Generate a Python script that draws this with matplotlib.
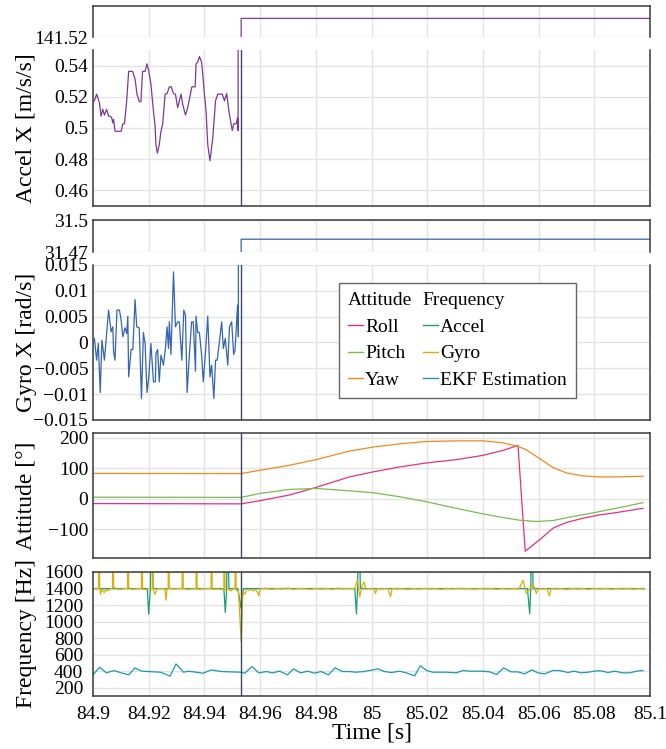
import numpy as np
import matplotlib
matplotlib.use("Agg")
import matplotlib.pyplot as plt
from matplotlib.lines import Line2D
from matplotlib.ticker import FuncFormatter

plt.rcParams['font.family'] = ['Liberation Serif', 'DejaVu Serif']

# ---- data ----
t_mark = 84.9532

accel_t = [84.9005, 84.9013, 84.9023, 84.9029, 84.9035, 84.9041, 84.9049, 84.9056, 84.9062, 84.9067,
           84.9071, 84.9074, 84.9079, 84.9101, 84.9107, 84.9113, 84.9121, 84.9128, 84.9142, 84.9151,
           84.9158, 84.9166, 84.9172, 84.9178, 84.9187, 84.9194, 84.9200, 84.9208, 84.9217, 84.9223,
           84.9226, 84.9231, 84.9238, 84.9244, 84.9250, 84.9259, 84.9266, 84.9274, 84.9281, 84.9289,
           84.9296, 84.9304, 84.9316, 84.9322, 84.9332, 84.9340, 84.9346, 84.9355, 84.9367, 84.9370,
           84.9376, 84.9382, 84.9390, 84.9394, 84.9400, 84.9406, 84.9412, 84.9420, 84.9430, 84.9440,
           84.9448, 84.9464, 84.9472, 84.9480, 84.9488, 84.9492, 84.9500, 84.9505, 84.9514, 84.9519,
           84.9521, 84.9532, 85.1]
accel_x = [0.5174, 0.5217, 0.5163, 0.5076, 0.5120, 0.5083, 0.5120, 0.5076, 0.5076, 0.5066,
           0.5033, 0.5055, 0.4979, 0.4979, 0.5027, 0.5027, 0.5174, 0.5363, 0.5363, 0.5314,
           0.5217, 0.5169, 0.5169, 0.5363, 0.5363, 0.5411, 0.5368, 0.5281, 0.5109, 0.5012,
           0.4893, 0.4839, 0.4893, 0.4979, 0.5023, 0.5217, 0.5221, 0.5264, 0.5264, 0.5221,
           0.5217, 0.5130, 0.5217, 0.5152, 0.5083, 0.5130, 0.5184, 0.5264, 0.5264, 0.5411,
           0.5422, 0.5458, 0.5422, 0.5346, 0.5217, 0.5109, 0.4893, 0.4790, 0.4936, 0.5174,
           0.5217, 0.5217, 0.5174, 0.5221, 0.5109, 0.5066, 0.4984, 0.5027, 0.5027, 0.5066,
           0.4984, 141.523, 141.523]

gyro_t = [84.9005, 84.9013, 84.9019, 84.9026, 84.9032, 84.9041, 84.9049, 84.9056, 84.9065, 84.9071,
          84.9074, 84.9079, 84.9086, 84.9095, 84.9101, 84.9107, 84.9115, 84.9121, 84.9125, 84.9128,
          84.9137, 84.9143, 84.9151, 84.9157, 84.9166, 84.9174, 84.9181, 84.9187, 84.9194, 84.9200,
          84.9208, 84.9217, 84.9224, 84.9226, 84.9232, 84.9238, 84.9244, 84.9253, 84.9260, 84.9266,
          84.9271, 84.9274, 84.9280, 84.9289, 84.9296, 84.9304, 84.9310, 84.9319, 84.9326, 84.9332,
          84.9338, 84.9346, 84.9354, 84.9360, 84.9368, 84.9370, 84.9376, 84.9382, 84.9390, 84.9396,
          84.9404, 84.9412, 84.9420, 84.9426, 84.9434, 84.9440, 84.9446, 84.9454, 84.9462, 84.9468,
          84.9475, 84.9484, 84.9490, 84.9498, 84.9505, 84.9510, 84.9519, 84.9522, 84.9532, 85.1]
gyro_x = [0.00077, -0.00342, -0.00019, -0.00968, 0.00045, -0.00342, 0.00174, 0.00626, 0.00206, 0.00303,
          -0.00181, -0.00342, 0.00626, 0.00626, 0.00432, 0.00110, 0.00284, 0.00174, 0.00510, -0.00665,
          -0.00136, -0.00136, 0.00832, 0.00303, 0.00284, -0.01084, 0.00194, -0.00019, -0.00968, -0.00697,
          -0.00019, -0.00761, -0.00761, -0.00213, -0.00136, -0.00761, -0.00245, -0.00439, -0.00116, 0.00303,
          -0.00116, 0.00400, -0.00232, 0.01368, 0.00303, 0.00400, 0.00400, -0.00342, 0.00626, 0.00529,
          -0.00968, -0.00245, 0.00400, 0.00400, -0.00555, 0.00510, 0.00194, 0.00194, -0.00245, -0.00761,
          -0.00181, 0.00510, -0.00665, -0.00439, -0.01084, -0.00342, -0.00342, 0.00013, 0.00400, -0.00116,
          0.00077, -0.00439, 0.00303, 0.00400, -0.00232, -0.00148, 0.00723, 0.00110, 31.482, 31.482]

roll_t = [84.9, 84.9532, 84.96, 84.9705, 84.98, 84.9921, 85.0005, 85.0101, 85.0196, 85.0304,
          85.04, 85.0472, 85.0526, 85.0552, 85.0604, 85.0652, 85.07, 85.0759, 85.0819, 85.0879, 85.0975]
roll = [-16, -17, -6.5, 12, 37, 71.7, 88, 104.3, 117.4, 128.3,
        142.4, 158.7, 175, -172.8, -134.8, -96.7, -78.3, -64.1, -53.3, -45.7, -31.5]

pitch_t = [84.9, 84.9532, 84.96, 84.9705, 84.98, 84.9885, 85.0005, 85.0101, 85.0196, 85.0304,
           85.04, 85.0472, 85.0532, 85.0592, 85.0652, 85.0723, 85.0795, 85.0879, 85.0975]
pitch = [5, 4.3, 17.4, 30.4, 33.7, 28.3, 19.6, 6.5, -9.8, -31.5,
         -50, -62, -70.7, -75, -71.7, -58.7, -46.7, -31.5, -13]

yaw_t = [84.9, 84.9532, 84.96, 84.9705, 84.98, 84.9921, 85.0005, 85.0101, 85.0196, 85.0304,
         85.04, 85.0472, 85.0526, 85.0556, 85.0604, 85.0652, 85.07, 85.0759, 85.0819, 85.0879, 85.0975]
yaw = [83, 82.6, 93.5, 109.8, 128.3, 156.5, 169.6, 180.4, 188, 190.2,
       190.2, 183.7, 171.7, 160.9, 131.5, 102.2, 84.8, 75, 71.7, 71.7, 73.9]

f_accel_t = [84.9, 84.91, 84.9195, 84.92, 84.9206, 84.921, 84.9216, 84.93, 84.94, 84.947,
             84.9475, 84.948, 84.9482, 84.9488, 84.952, 84.9532, 84.954, 84.97, 84.994, 84.9946,
             84.995, 84.9954, 84.996, 85.02, 85.056, 85.0568, 85.0572, 85.0575, 85.058, 85.098]
f_accel = [1400, 1400, 1400, 1090, 1400, 2400, 1400, 1400, 1400, 1400,
           1110, 1400, 2400, 1400, 1400, 1160, 1400, 1400, 1400, 1090,
           1400, 2400, 1400, 1400, 1400, 1095, 1400, 2400, 1400, 1400]

f_gyro_t = [84.9, 84.9012, 84.902, 84.9021, 84.9024, 84.9027, 84.9032, 84.904, 84.9046, 84.9052,
            84.9058, 84.9066, 84.907, 84.9071, 84.9074, 84.9085, 84.91, 84.911, 84.9124, 84.9125,
            84.9128, 84.914, 84.915, 84.916, 84.9174, 84.9175, 84.9178, 84.919, 84.92, 84.9213,
            84.9214, 84.9217, 84.9222, 84.923, 84.9245, 84.9258, 84.9262, 84.9266, 84.927, 84.9271,
            84.9274, 84.929, 84.9305, 84.932, 84.9321, 84.9324, 84.934, 84.9355, 84.937, 84.9371,
            84.9374, 84.939, 84.941, 84.9424, 84.9425, 84.9428, 84.9445, 84.946, 84.947, 84.9471,
            84.9474, 84.9485, 84.9495, 84.9505, 84.951, 84.9511, 84.9514, 84.9522, 84.9532, 84.9538,
            84.9545, 84.9552, 84.956, 84.9568, 84.9575, 84.9582, 84.959, 84.9595, 84.96, 84.962,
            84.964, 84.966, 84.968, 84.97, 84.972, 84.974, 84.976, 84.978, 84.98, 84.982,
            84.984, 84.986, 84.988, 84.99, 84.992, 84.994, 84.9949, 84.9958, 84.9965, 84.9973,
            84.998, 84.999, 85.0, 85.0008, 85.0014, 85.002, 85.0035, 85.005, 85.006, 85.0068,
            85.0074, 85.009, 85.011, 85.013, 85.015, 85.017, 85.019, 85.021, 85.023, 85.025,
            85.027, 85.029, 85.031, 85.033, 85.035, 85.037, 85.039, 85.041, 85.043, 85.045,
            85.047, 85.049, 85.051, 85.053, 85.0544, 85.0556, 85.0568, 85.058, 85.0592, 85.06,
            85.0615, 85.063, 85.0639, 85.0645, 85.066, 85.068, 85.07, 85.072, 85.074, 85.076,
            85.078, 85.08, 85.082, 85.084, 85.086, 85.088, 85.09, 85.092, 85.094, 85.096, 85.098]
f_gyro = [1400, 1395, 1400, 2400, 1420, 1330, 1395, 1350, 1390, 1370,
          1390, 1400, 1400, 2400, 1420, 1395, 1390, 1400, 1400, 2400,
          1410, 1390, 1395, 1400, 1400, 2400, 1390, 1390, 1395, 1400,
          2400, 1380, 1330, 1395, 1400, 1395, 1260, 1395, 1400, 2400,
          1400, 1395, 1400, 1400, 2400, 1400, 1390, 1395, 1400, 2400,
          1390, 1395, 1400, 1400, 2400, 1390, 1395, 1390, 1400, 2400,
          1380, 1395, 1370, 1400, 1400, 2400, 1380, 1370, 760, 1360,
          1330, 1390, 1380, 1390, 1370, 1390, 1360, 1310, 1395, 1405,
          1390, 1400, 1395, 1405, 1392, 1400, 1398, 1390, 1402, 1395,
          1400, 1392, 1405, 1396, 1400, 1398, 1500, 1300, 1420, 1480,
          1390, 1400, 1395, 1400, 1340, 1400, 1395, 1400, 1395, 1300,
          1400, 1395, 1400, 1390, 1400, 1395, 1402, 1395, 1400, 1390,
          1400, 1395, 1402, 1395, 1400, 1393, 1400, 1395, 1400, 1390,
          1400, 1395, 1400, 1395, 1500, 1340, 1400, 1460, 1340, 1400,
          1395, 1400, 1310, 1400, 1395, 1400, 1390, 1400, 1395, 1400,
          1390, 1400, 1395, 1402, 1392, 1400, 1395, 1400, 1392, 1400, 1395]

ekf_t = [84.9, 84.9024, 84.9048, 84.9075, 84.9102, 84.9129, 84.915, 84.9176, 84.9242, 84.9277,
         84.9298, 84.9325, 84.9343, 84.9396, 84.9424, 84.9462, 84.9527, 84.9545, 84.9571, 84.9595,
         84.9623, 84.9644, 84.967, 84.9698, 84.972, 84.9745, 84.9771, 84.9795, 84.9819, 84.9845,
         84.9869, 84.9896, 84.992, 84.9944, 84.9974, 85.0023, 85.0047, 85.0071, 85.0101, 85.0125,
         85.0155, 85.0175, 85.0199, 85.022, 85.0268, 85.0304, 85.0328, 85.0352, 85.04, 85.0424,
         85.045, 85.0474, 85.0502, 85.0526, 85.055, 85.0576, 85.0598, 85.0622, 85.0651, 85.0675,
         85.0705, 85.0727, 85.0753, 85.0777, 85.0807, 85.0825, 85.0849, 85.0873, 85.0903, 85.0927,
         85.0951, 85.0975]
ekf = [356, 448, 380, 408, 380, 356, 440, 400, 388, 340,
       488, 388, 400, 376, 416, 396, 388, 376, 456, 380,
       396, 380, 400, 356, 428, 380, 400, 376, 396, 356,
       440, 396, 396, 388, 396, 428, 396, 384, 400, 380,
       344, 464, 408, 388, 388, 380, 408, 400, 400, 392,
       360, 440, 392, 392, 368, 416, 380, 368, 408, 408,
       384, 400, 380, 388, 404, 404, 384, 400, 380, 380,
       400, 408]

x_ticks = [84.9, 84.92, 84.94, 84.96, 84.98, 85.0, 85.02, 85.04, 85.06, 85.08, 85.1]

c_accel_x = '#7b3a96'
c_gyro_x = '#3465b0'
c_roll = '#e7307f'
c_pitch = '#7cbb4e'
c_yaw = '#f08a1e'
c_f_accel = '#1b9e77'
c_f_gyro = '#d9b00a'
c_ekf = '#1a9aae'
c_mark = '#3d4a66'

fmt = FuncFormatter(lambda v, p: ('%g' % v).replace('-', '\u2212'))

fig = plt.figure(figsize=(6.66, 7.49), dpi=100)
W, H = 666.0, 749.0
left, right = 93, 650


def make_ax(top, bottom):
    ax = fig.add_axes([left / W, 1 - bottom / H, (right - left) / W, (bottom - top) / H])
    ax.set_xlim(84.9, 85.1)
    ax.set_xticks(x_ticks)
    ax.xaxis.set_major_formatter(fmt)
    ax.yaxis.set_major_formatter(fmt)
    ax.grid(True, color='#e4e4e4', lw=1)
    ax.set_axisbelow(True)
    ax.tick_params(length=0, labelsize=14, pad=3.5, labelbottom=False)
    for s in ax.spines.values():
        s.set_color('#3a3a3a')
        s.set_linewidth(1.1)
    return ax


# accel x (broken)
a1t = make_ax(6, 37)
a1b = make_ax(50, 206)
for ax in (a1t, a1b):
    ax.plot(accel_t, accel_x, color=c_accel_x, lw=0.9)
a1t.set_ylim(141.52, 141.525)
a1t.set_yticks([141.52])
a1b.set_ylim(0.45, 0.55)
a1b.set_yticks([0.46, 0.48, 0.5, 0.52, 0.54])
a1b.axvline(t_mark, color=c_mark, lw=1)
a1t.spines['bottom'].set_visible(False)
a1b.spines['top'].set_visible(False)
a1b.set_ylabel('Accel X [m/s/s]', fontsize=17)

# gyro x (broken)
a2t = make_ax(220, 252)
a2b = make_ax(265, 420)
for ax in (a2t, a2b):
    ax.plot(gyro_t, gyro_x, color=c_gyro_x, lw=0.9)
a2t.set_ylim(31.47, 31.5)
a2t.set_yticks([31.47, 31.5])
a2b.set_ylim(-0.015, 0.015)
a2b.set_yticks([-0.015, -0.01, -0.005, 0, 0.005, 0.01, 0.015])
a2b.axvline(t_mark, color=c_mark, lw=1)
a2t.spines['bottom'].set_visible(False)
a2b.spines['top'].set_visible(False)
a2b.set_ylabel('Gyro X [rad/s]', fontsize=17)

# attitude
a3 = make_ax(433, 558)
a3.plot(roll_t, roll, color=c_roll, lw=0.9)
a3.plot(pitch_t, pitch, color=c_pitch, lw=0.9)
a3.plot(yaw_t, yaw, color=c_yaw, lw=0.9)
a3.axvline(t_mark, color=c_mark, lw=1)
a3.set_ylim(-195, 216)
a3.set_yticks([-100, 0, 100, 200])
a3.set_ylabel('Attitude [°]', fontsize=17)

# frequency
a4 = make_ax(572, 696)
a4.plot(f_accel_t, f_accel, color=c_f_accel, lw=0.9)
a4.plot(f_gyro_t, f_gyro, color=c_f_gyro, lw=0.9)
a4.plot(ekf_t, ekf, color=c_ekf, lw=0.9)
a4.axvline(t_mark, color=c_mark, lw=1)
a4.set_ylim(100, 1600)
a4.set_yticks([200, 400, 600, 800, 1000, 1200, 1400, 1600])
a4.tick_params(labelbottom=True, pad=7)
a4.set_ylabel('Frequency [Hz]', fontsize=17)
a4.set_xlabel('Time [s]', fontsize=17, labelpad=0)

for ax in (a1b, a2b, a3, a4):
    ax.yaxis.set_label_coords((37 - left) / (right - left), 0.5)

# legend with two column headers
blank = Line2D([], [], color='none')
handles = [blank,
           Line2D([], [], color=c_roll, lw=1), Line2D([], [], color=c_pitch, lw=1),
           Line2D([], [], color=c_yaw, lw=1), blank,
           Line2D([], [], color=c_f_accel, lw=1), Line2D([], [], color=c_f_gyro, lw=1),
           Line2D([], [], color=c_ekf, lw=1)]
labels = ['Attitude', 'Roll', 'Pitch', 'Yaw', 'Frequency', 'Accel', 'Gyro', 'EKF Estimation']
leg = a2b.legend(handles, labels, ncol=2, loc='upper left',
                 bbox_to_anchor=((339 - left) / (right - left), 1 - (283 - 265) / 155),
                 borderaxespad=0, fontsize=14, handlelength=0.8, handletextpad=0.1,
                 columnspacing=-0.35, labelspacing=0.46, borderpad=0.45,
                 fancybox=False, framealpha=1, edgecolor='#666666')
leg.get_frame().set_linewidth(1)
shift = (0.8 + 0.1) * 14 * 100 / 72
for i in (0, 4):
    leg.get_texts()[i].set_x(-shift)

fig.savefig('out.png', dpi=100)
